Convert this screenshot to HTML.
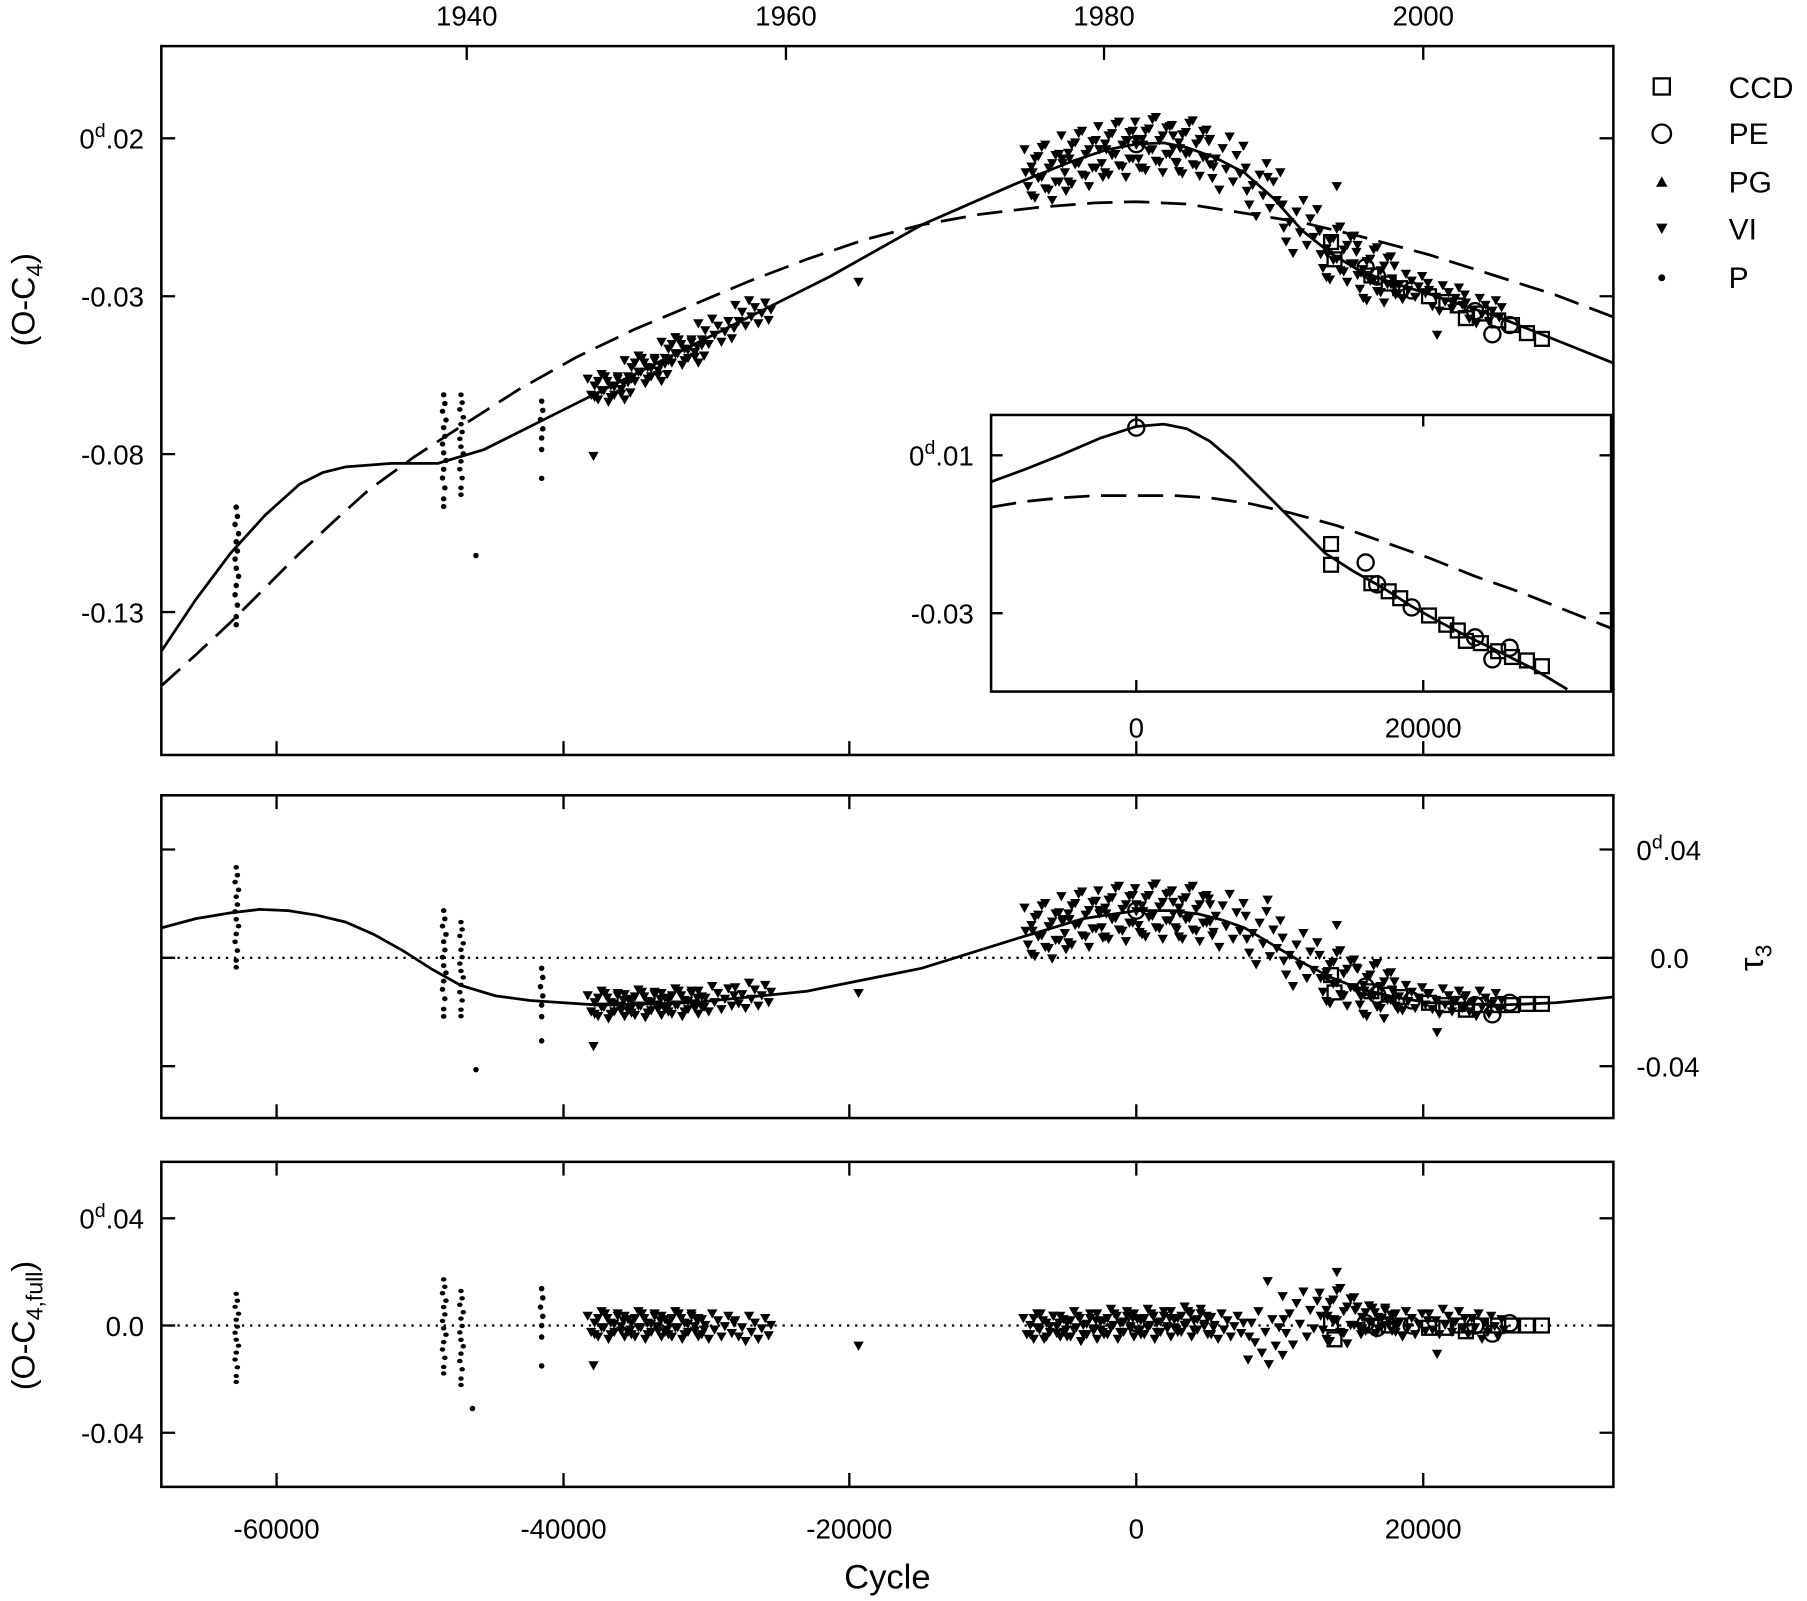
<!DOCTYPE html>
<html><head><meta charset="utf-8">
<style>
html,body{margin:0;padding:0;background:#fff;}
svg{display:block;}
text{font-family:"Liberation Sans",Arial,sans-serif;fill:#000;}
</style></head>
<body>
<svg xmlns="http://www.w3.org/2000/svg" width="1807" height="1601" viewBox="0 0 1568 1389" preserveAspectRatio="none">
<defs>
<path id="cv" d="M-4.5,-12h9l-4.5,8z M-1.5,2h9l-4.5,8z M1.5,-6h9l-4.5,8z M4.5,6h9l-4.5,8z M7.5,-16h9l-4.5,8z M9.5,-2h9l-4.5,8z M12.5,-10h9l-4.5,8z M15.5,4h9l-4.5,8z M18.5,-5h9l-4.5,8z M21.5,-14h9l-4.5,8z M24.5,1h9l-4.5,8z M26.5,-8h9l-4.5,8z" fill="#000"/>
<path id="cv2" d="M-2.5,4h9l-4.5,8z M0.5,-10h9l-4.5,8z M3.5,-2h9l-4.5,8z M6.5,-14h9l-4.5,8z M9.5,8h9l-4.5,8z M11.5,-6h9l-4.5,8z M14.5,2h9l-4.5,8z M17.5,-12h9l-4.5,8z M20.5,-3h9l-4.5,8z M23.5,6h9l-4.5,8z M26.5,-9h9l-4.5,8z M28.5,0h9l-4.5,8z" fill="#000"/>
<path id="cw" d="M-3.5,-24h9l-4.5,8z M-0.5,8h9l-4.5,8z M2.5,-9h9l-4.5,8z M5.5,18h9l-4.5,8z M8.5,-18h9l-4.5,8z M11.5,0h9l-4.5,8z M14.5,-28h9l-4.5,8z M17.5,11h9l-4.5,8z M20.5,-12h9l-4.5,8z M23.5,4h9l-4.5,8z M26.5,-20h9l-4.5,8z M-2.5,-4h9l-4.5,8z" fill="#000"/>
<path id="cw2" d="M-1.5,16h9l-4.5,8z M1.5,-16h9l-4.5,8z M4.5,1h9l-4.5,8z M7.5,-26h9l-4.5,8z M10.5,10h9l-4.5,8z M13.5,-8h9l-4.5,8z M16.5,20h9l-4.5,8z M19.5,-19h9l-4.5,8z M22.5,4h9l-4.5,8z M25.5,-12h9l-4.5,8z M28.5,12h9l-4.5,8z M-0.5,-4h9l-4.5,8z" fill="#000"/>
<g id="pc" fill="#000">
<circle cx="0" cy="-50" r="2.4"/><circle cx="1" cy="-42" r="2.4"/><circle cx="-1" cy="-35" r="2.4"/><circle cx="2" cy="-27" r="2.4"/><circle cx="0" cy="-20" r="2.4"/><circle cx="1" cy="-12" r="2.4"/><circle cx="-1" cy="-5" r="2.4"/><circle cx="0" cy="3" r="2.4"/><circle cx="2" cy="10" r="2.4"/><circle cx="0" cy="18" r="2.4"/><circle cx="-1" cy="26" r="2.4"/><circle cx="1" cy="35" r="2.4"/><circle cx="0" cy="45" r="2.4"/><circle cx="0" cy="52" r="2.4"/>
</g>
<g id="pc2" fill="#000">
<circle cx="0" cy="-22" r="2.4"/><circle cx="1" cy="-14" r="2.4"/><circle cx="-1" cy="-6" r="2.4"/><circle cx="1" cy="2" r="2.4"/><circle cx="0" cy="10" r="2.4"/><circle cx="0" cy="20" r="2.4"/>
</g>
<rect id="sq" x="-6" y="-6" width="12" height="12" fill="none" stroke="#000" stroke-width="2"/>
<circle id="ci" r="7" fill="none" stroke="#000" stroke-width="2"/>
</defs>
<g fill="none" stroke="#000" stroke-width="2.2">
<rect x="140" y="40" width="1260" height="615"/>
<rect x="140" y="690" width="1260" height="280"/>
<rect x="140" y="1008" width="1260" height="282"/>
</g>
<g stroke="#000" stroke-width="2">
<path d="M240,655v-12M489,655v-12M737,655v-12M986,655v-12M1235,655v-12 M240,690v12M489,690v12M737,690v12M986,690v12M1235,690v12 M240,970v-12M489,970v-12M737,970v-12M986,970v-12M1235,970v-12 M240,1008v12M489,1008v12M737,1008v12M986,1008v12M1235,1008v12 M240,1290v-12M489,1290v-12M737,1290v-12M986,1290v-12M1235,1290v-12 M405,40v12M682,40v12M958,40v12M1235,40v12 M140,120h12M140,257h12M140,394h12M140,531h12 M1400,120h-12M1400,257h-12M1400,394h-12M1400,531h-12 M140,737h12M140,831h12M140,925h12M1400,737h-12M1400,831h-12M1400,925h-12 M140,1057h12M140,1150h12M140,1243h12M1400,1057h-12M1400,1150h-12M1400,1243h-12"/>
</g>
<g fill="none" stroke="#000" stroke-width="2.4">
<polyline points="140,565 170,520 200,480 230,447 260,420 280,410 300,405 340,402 380,402 420,390 480,360 560,320 640,280 720,240 800,195 880,160 930,140 960,130 986,125 1010,124 1030,128 1055,137 1080,150 1105,172 1130,200 1155,220 1180,235 1210,246 1240,255 1300,275 1350,295 1400,315"/>
<polyline stroke-dasharray="22,10" points="140,595 170,568 200,540 230,510 260,480 290,452 320,425 360,396 400,370 450,338 500,310 550,286 600,265 650,244 700,225 750,208 800,195 850,186 900,180 950,176 986,175 1030,177 1080,185 1130,193 1180,205 1240,221 1300,240 1350,256 1400,275"/>
<line x1="140" y1="831" x2="1400" y2="831" stroke-dasharray="2,5" stroke-width="2"/>
<line x1="140" y1="1150" x2="1400" y2="1150" stroke-dasharray="2,5" stroke-width="2"/>
<polyline points="140,805 170,797 200,792 225,789 250,790 275,794 300,800 325,811 350,825 375,841 400,855 430,864 460,868 520,872 600,870 700,860 800,840 880,815 940,797 986,790 1015,790 1040,793 1060,798 1080,805 1105,820 1130,835 1155,848 1180,858 1210,865 1240,870 1300,872 1350,870 1400,865"/>
</g>
<!-- P dots -->
<use href="#pc" transform="translate(205,490)"/>
<use href="#pc" transform="translate(205,795) scale(1,0.85)"/>
<use href="#pc" transform="translate(205,1160) scale(1,0.75)"/>
<use href="#pc" transform="translate(385,390) scale(1,0.95)"/>
<use href="#pc" transform="translate(385,835) scale(1,0.9)"/>
<use href="#pc" transform="translate(385,1150) scale(1,0.8)"/>
<use href="#pc" transform="translate(400,385) scale(1,0.85)"/>
<use href="#pc" transform="translate(400,840) scale(1,0.8)"/>
<use href="#pc" transform="translate(400,1160) scale(1,0.8)"/>
<use href="#pc2" transform="translate(470,370)"/>
<use href="#pc2" transform="translate(470,862)"/>
<use href="#pc2" transform="translate(470,1140)"/>
<g fill="#000"><circle cx="413" cy="482" r="2.4"/><circle cx="413" cy="928" r="2.4"/><circle cx="410" cy="1222" r="2.4"/><circle cx="470" cy="415" r="2.4"/><circle cx="470" cy="903" r="2.4"/><circle cx="470" cy="1185" r="2.4"/></g>
<!-- VI top -->
<g>
<use href="#cv" transform="translate(510,337)"/><use href="#cv2" transform="translate(514,337)"/>
<use href="#cv" transform="translate(542,321)"/><use href="#cv2" transform="translate(546,321)"/>
<use href="#cv" transform="translate(574,305)"/><use href="#cv2" transform="translate(578,305)"/>
<use href="#cv" transform="translate(606,289)"/>
<use href="#cv" transform="translate(638,273)"/>
<path d="M510.5,392h9l-4.5,8z M740.5,241h9l-4.5,8z" fill="#000"/>
<use href="#cw" transform="translate(888,150)"/><use href="#cw2" transform="translate(892,150)"/>
<use href="#cw" transform="translate(920,138)"/><use href="#cw2" transform="translate(924,138)"/>
<use href="#cw" transform="translate(952,130)"/><use href="#cw2" transform="translate(956,130)"/>
<use href="#cw" transform="translate(984,126)"/><use href="#cw2" transform="translate(988,126)"/>
<use href="#cw" transform="translate(1016,129)"/><use href="#cw2" transform="translate(1020,129)"/>
<use href="#cw" transform="translate(1048,143)"/>
<use href="#cw" transform="translate(1080,166)"/>
<use href="#cw" transform="translate(1112,198)"/>
<use href="#cw" transform="translate(1144,221)"/><use href="#cw2" transform="translate(1148,221)"/>
<use href="#cw" transform="translate(1176,239)"/><use href="#cw2" transform="translate(1180,239)"/>
<use href="#cv" transform="translate(1208,250)"/>
<use href="#cv" transform="translate(1240,260)"/>
<use href="#cv" transform="translate(1272,271)"/>
<path d="M1095.5,150h9l-4.5,8z M1155.5,158h9l-4.5,8z M1242.5,287h9l-4.5,8z" fill="#000"/>
</g>
<!-- VI middle -->
<g>
<use href="#cv" transform="translate(510,872)"/><use href="#cv2" transform="translate(514,872)"/>
<use href="#cv" transform="translate(542,871)"/><use href="#cv2" transform="translate(546,871)"/>
<use href="#cv" transform="translate(574,870)"/><use href="#cv2" transform="translate(578,870)"/>
<use href="#cv" transform="translate(606,868)"/>
<use href="#cv" transform="translate(638,865)"/>
<path d="M510.5,904h9l-4.5,8z M740.5,858h9l-4.5,8z M1095.5,777h9l-4.5,8z M1155.5,799h9l-4.5,8z M1242.5,892h9l-4.5,8z" fill="#000"/>
<use href="#cw" transform="translate(888,808)"/><use href="#cw2" transform="translate(892,808)"/>
<use href="#cw" transform="translate(920,798)"/><use href="#cw2" transform="translate(924,798)"/>
<use href="#cw" transform="translate(952,793)"/><use href="#cw2" transform="translate(956,793)"/>
<use href="#cw" transform="translate(984,791)"/><use href="#cw2" transform="translate(988,791)"/>
<use href="#cw" transform="translate(1016,793)"/><use href="#cw2" transform="translate(1020,793)"/>
<use href="#cw" transform="translate(1048,800)"/>
<use href="#cw" transform="translate(1080,815)"/>
<use href="#cw" transform="translate(1112,834)"/>
<use href="#cw" transform="translate(1144,849)"/><use href="#cw2" transform="translate(1148,849)"/>
<use href="#cw" transform="translate(1176,860)"/><use href="#cw2" transform="translate(1180,860)"/>
<use href="#cv" transform="translate(1208,867)"/>
<use href="#cv" transform="translate(1240,870)"/>
<use href="#cv" transform="translate(1272,872)"/>
</g>
<!-- VI bottom -->
<g>
<use href="#cv" transform="translate(510,1150)"/><use href="#cv2" transform="translate(514,1150)"/>
<use href="#cv" transform="translate(542,1150)"/><use href="#cv2" transform="translate(546,1150)"/>
<use href="#cv" transform="translate(574,1150)"/><use href="#cv2" transform="translate(578,1150)"/>
<use href="#cv" transform="translate(606,1152)"/>
<use href="#cv" transform="translate(638,1154)"/>
<path d="M510.5,1181h9l-4.5,8z M740.5,1164h9l-4.5,8z M1095.5,1108h9l-4.5,8z M1155.5,1100h9l-4.5,8z M1242.5,1171h9l-4.5,8z" fill="#000"/>
<use href="#cv" transform="translate(888,1152)"/><use href="#cv2" transform="translate(892,1150)"/>
<use href="#cv" transform="translate(920,1150)"/><use href="#cv2" transform="translate(924,1152)"/>
<use href="#cv" transform="translate(952,1148)"/><use href="#cv2" transform="translate(956,1150)"/>
<use href="#cv" transform="translate(984,1148)"/><use href="#cv2" transform="translate(988,1150)"/>
<use href="#cv" transform="translate(1016,1146)"/><use href="#cv2" transform="translate(1020,1148)"/>
<use href="#cv" transform="translate(1048,1152)"/>
<use href="#cw2" transform="translate(1080,1160)"/>
<use href="#cw" transform="translate(1112,1145)"/>
<use href="#cw" transform="translate(1144,1142)"/><use href="#cw2" transform="translate(1148,1142)"/>
<use href="#cv" transform="translate(1176,1145)"/><use href="#cv2" transform="translate(1180,1145)"/>
<use href="#cv" transform="translate(1208,1150)"/>
<use href="#cv" transform="translate(1240,1148)"/>
<use href="#cv2" transform="translate(1272,1150)"/>
</g>
<!-- CCD / PE top -->
<g>
<use href="#sq" x="1155" y="210"/><use href="#sq" x="1158" y="225"/><use href="#sq" x="1190" y="239"/><use href="#sq" x="1205" y="246"/><use href="#sq" x="1215" y="250"/><use href="#sq" x="1240" y="257"/><use href="#sq" x="1255" y="262"/><use href="#sq" x="1265" y="265"/><use href="#sq" x="1272" y="276"/><use href="#sq" x="1285" y="272"/><use href="#sq" x="1300" y="278"/><use href="#sq" x="1312" y="282"/><use href="#sq" x="1325" y="289"/><use href="#sq" x="1338" y="294"/>
<use href="#ci" x="986" y="125"/><use href="#ci" x="1185" y="232"/><use href="#ci" x="1195" y="240"/><use href="#ci" x="1225" y="252"/><use href="#ci" x="1280" y="270"/><use href="#ci" x="1295" y="290"/><use href="#ci" x="1310" y="282"/>
</g>
<!-- middle -->
<g>
<use href="#sq" x="1155" y="846"/><use href="#sq" x="1158" y="861"/><use href="#sq" x="1190" y="860"/><use href="#sq" x="1205" y="863"/><use href="#sq" x="1215" y="865"/><use href="#sq" x="1240" y="870"/><use href="#sq" x="1255" y="872"/><use href="#sq" x="1265" y="871"/><use href="#sq" x="1272" y="876"/><use href="#sq" x="1285" y="872"/><use href="#sq" x="1300" y="872"/><use href="#sq" x="1312" y="872"/><use href="#sq" x="1325" y="871"/><use href="#sq" x="1338" y="871"/>
<use href="#ci" x="986" y="790"/><use href="#ci" x="1185" y="856"/><use href="#ci" x="1195" y="863"/><use href="#ci" x="1225" y="868"/><use href="#ci" x="1280" y="872"/><use href="#ci" x="1295" y="880"/><use href="#ci" x="1310" y="870"/>
</g>
<!-- bottom -->
<g>
<use href="#sq" x="1155" y="1148"/><use href="#sq" x="1158" y="1162"/><use href="#sq" x="1190" y="1150"/><use href="#sq" x="1205" y="1150"/><use href="#sq" x="1215" y="1150"/><use href="#sq" x="1240" y="1152"/><use href="#sq" x="1255" y="1152"/><use href="#sq" x="1265" y="1150"/><use href="#sq" x="1272" y="1155"/><use href="#sq" x="1285" y="1150"/><use href="#sq" x="1300" y="1150"/><use href="#sq" x="1312" y="1150"/><use href="#sq" x="1325" y="1150"/><use href="#sq" x="1338" y="1150"/>
<use href="#ci" x="986" y="1148"/><use href="#ci" x="1185" y="1148"/><use href="#ci" x="1195" y="1152"/><use href="#ci" x="1225" y="1150"/><use href="#ci" x="1280" y="1150"/><use href="#ci" x="1295" y="1157"/><use href="#ci" x="1310" y="1148"/>
</g>
<!-- inset -->
<rect x="860" y="360" width="538" height="240" fill="#fff" stroke="#000" stroke-width="2.2"/>
<g stroke="#000" stroke-width="2"><path d="M986,600v-10M1235,600v-10M986,360v10M1235,360v10M860,395h10M860,532h10M1398,395h-10M1398,532h-10"/></g>
<g fill="none" stroke="#000" stroke-width="2.4">
<polyline points="860,418 890,407 920,395 955,380 986,370 1010,368 1030,372 1050,383 1070,400 1090,420 1110,440 1130,460 1150,480 1175,496 1200,510 1225,526 1250,540 1275,553 1300,565 1330,580 1360,598"/>
<polyline stroke-dasharray="22,10" points="860,440 890,435 920,432 950,430 986,430 1020,430 1050,432 1085,437 1120,445 1160,456 1200,470 1240,484 1280,500 1320,514 1360,530 1398,545"/>
</g>
<g>
<use href="#sq" x="1155" y="472"/><use href="#sq" x="1155" y="490"/><use href="#sq" x="1190" y="506"/><use href="#sq" x="1205" y="513"/><use href="#sq" x="1215" y="519"/><use href="#sq" x="1240" y="534"/><use href="#sq" x="1255" y="542"/><use href="#sq" x="1265" y="547"/><use href="#sq" x="1272" y="556"/><use href="#sq" x="1285" y="558"/><use href="#sq" x="1300" y="565"/><use href="#sq" x="1312" y="570"/><use href="#sq" x="1325" y="573"/><use href="#sq" x="1338" y="578"/>
<use href="#ci" x="986" y="371"/><use href="#ci" x="1185" y="488"/><use href="#ci" x="1195" y="507"/><use href="#ci" x="1225" y="527"/><use href="#ci" x="1280" y="553"/><use href="#ci" x="1295" y="572"/><use href="#ci" x="1310" y="562"/>
</g>
<g font-size="24">
<text x="405" y="22" text-anchor="middle">1940</text>
<text x="682" y="22" text-anchor="middle">1960</text>
<text x="958" y="22" text-anchor="middle">1980</text>
<text x="1235" y="22" text-anchor="middle">2000</text>
<text x="240" y="1335" text-anchor="middle">-60000</text>
<text x="489" y="1335" text-anchor="middle">-40000</text>
<text x="737" y="1335" text-anchor="middle">-20000</text>
<text x="986" y="1335" text-anchor="middle">0</text>
<text x="1235" y="1335" text-anchor="middle">20000</text>
<text x="986" y="640" text-anchor="middle">0</text>
<text x="1235" y="640" text-anchor="middle">20000</text>
<text x="125" y="129" text-anchor="end">0<tspan dy="-10" font-size="17">d</tspan><tspan dy="10">.02</tspan></text>
<text x="125" y="266" text-anchor="end">-0.03</text>
<text x="125" y="403" text-anchor="end">-0.08</text>
<text x="125" y="540" text-anchor="end">-0.13</text>
<text x="845" y="404" text-anchor="end">0<tspan dy="-10" font-size="17">d</tspan><tspan dy="10">.01</tspan></text>
<text x="845" y="541" text-anchor="end">-0.03</text>
<text x="1420" y="746">0<tspan dy="-10" font-size="17">d</tspan><tspan dy="10">.04</tspan></text>
<text x="1432" y="840">0.0</text>
<text x="1420" y="934">-0.04</text>
<text x="125" y="1066" text-anchor="end">0<tspan dy="-10" font-size="17">d</tspan><tspan dy="10">.04</tspan></text>
<text x="125" y="1159" text-anchor="end">0.0</text>
<text x="125" y="1252" text-anchor="end">-0.04</text>
<text x="770" y="1378" text-anchor="middle" font-size="30">Cycle</text>
<text transform="translate(30,260) rotate(-90)" text-anchor="middle" font-size="28">(O-C<tspan dy="7" font-size="20">4</tspan><tspan dy="-7">)</tspan></text>
<text transform="translate(30,1150) rotate(-90)" text-anchor="middle" font-size="28">(O-C<tspan dy="7" font-size="20">4,full</tspan><tspan dy="-7">)</tspan></text>
<text transform="translate(1530,831) rotate(-90)" text-anchor="middle" font-size="30">τ<tspan dy="7" font-size="20">3</tspan></text>
<text x="1500" y="85" font-size="26">CCD</text>
<text x="1500" y="125" font-size="26">PE</text>
<text x="1500" y="167" font-size="26">PG</text>
<text x="1500" y="208" font-size="26">VI</text>
<text x="1500" y="250" font-size="26">P</text>
</g>
<g fill="none" stroke="#000" stroke-width="2">
<rect x="1435" y="68" width="14" height="14"/>
<circle cx="1442" cy="116" r="8"/>
</g>
<polygon points="1437,162 1447,162 1442,153" fill="#000"/>
<polygon points="1437,194 1447,194 1442,203" fill="#000"/>
<circle cx="1442" cy="241" r="3" fill="#000"/>
</svg>
</body></html>
